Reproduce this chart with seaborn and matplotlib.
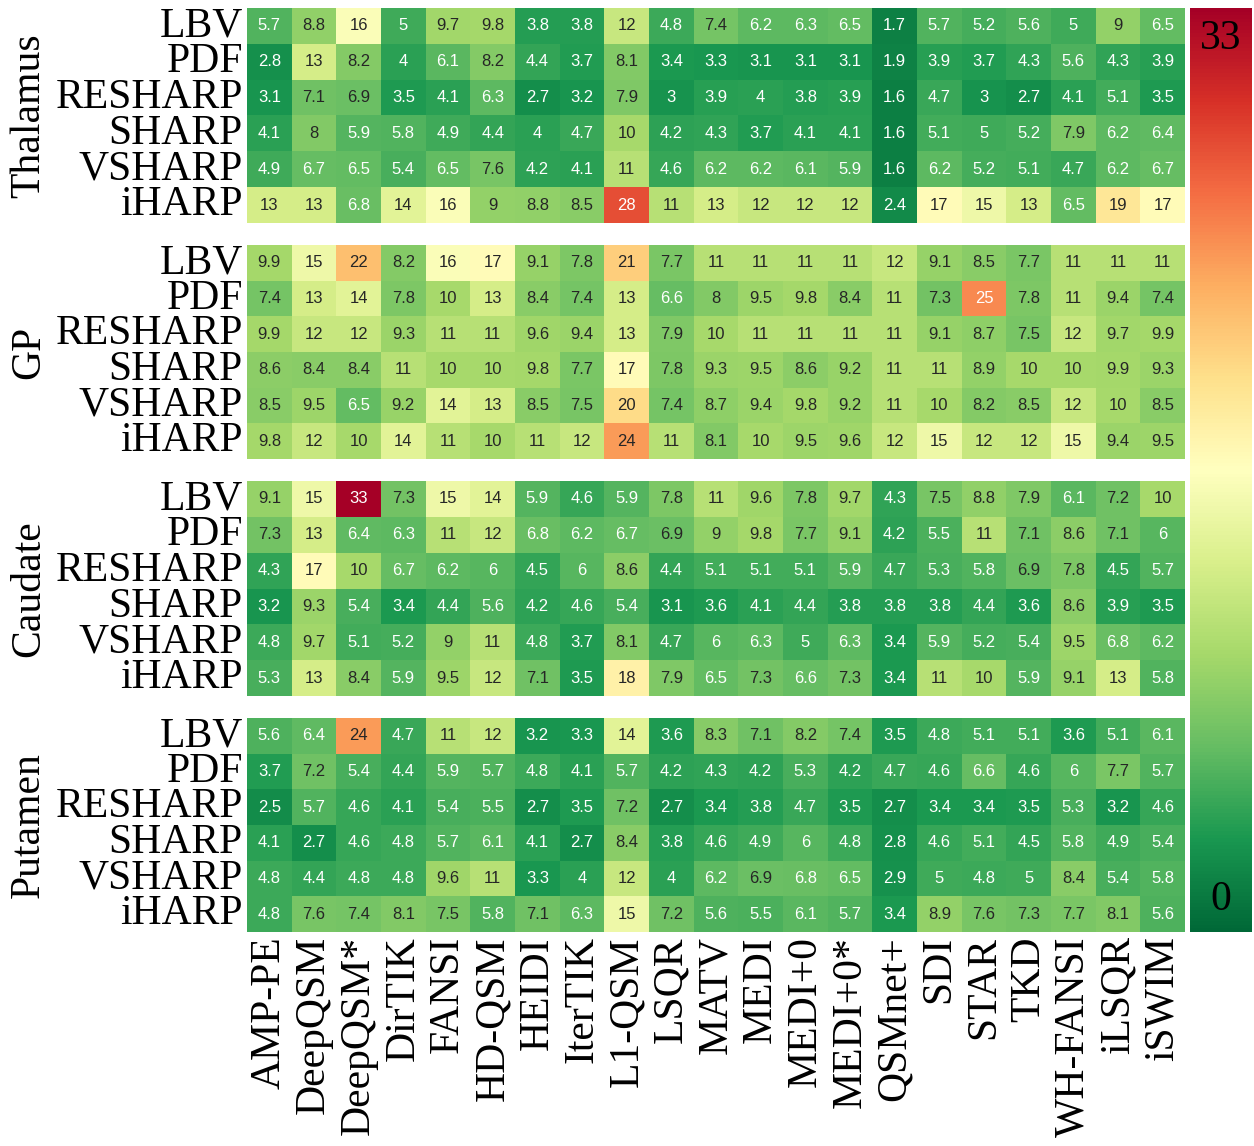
import matplotlib
matplotlib.use("Agg")
import matplotlib.pyplot as plt
import seaborn as sns
import pandas as pd
import numpy as np

methods = ["AMP-PE", "DeepQSM", "DeepQSM*", "DirTIK", "FANSI", "HD-QSM", "HEIDI",
           "IterTIK", "L1-QSM", "LSQR", "MATV", "MEDI", "MEDI+0", "MEDI+0*",
           "QSMnet+", "SDI", "STAR", "TKD", "WH-FANSI", "iLSQR", "iSWIM"]
bg_methods = ["LBV", "PDF", "RESHARP", "SHARP", "VSHARP", "iHARP"]
regions = ["Thalamus", "GP", "Caudate", "Putamen"]

thalamus = [
    [5.7, 8.8, 16, 5, 9.7, 9.8, 3.8, 3.8, 12, 4.8, 7.4, 6.2, 6.3, 6.5, 1.7, 5.7, 5.2, 5.6, 5, 9, 6.5],
    [2.8, 13, 8.2, 4, 6.1, 8.2, 4.4, 3.7, 8.1, 3.4, 3.3, 3.1, 3.1, 3.1, 1.9, 3.9, 3.7, 4.3, 5.6, 4.3, 3.9],
    [3.1, 7.1, 6.9, 3.5, 4.1, 6.3, 2.7, 3.2, 7.9, 3, 3.9, 4, 3.8, 3.9, 1.6, 4.7, 3, 2.7, 4.1, 5.1, 3.5],
    [4.1, 8, 5.9, 5.8, 4.9, 4.4, 4, 4.7, 10, 4.2, 4.3, 3.7, 4.1, 4.1, 1.6, 5.1, 5, 5.2, 7.9, 6.2, 6.4],
    [4.9, 6.7, 6.5, 5.4, 6.5, 7.6, 4.2, 4.1, 11, 4.6, 6.2, 6.2, 6.1, 5.9, 1.6, 6.2, 5.2, 5.1, 4.7, 6.2, 6.7],
    [13, 13, 6.8, 14, 16, 9, 8.8, 8.5, 28, 11, 13, 12, 12, 12, 2.4, 17, 15, 13, 6.5, 19, 17],
]
gp = [
    [9.9, 15, 22, 8.2, 16, 17, 9.1, 7.8, 21, 7.7, 11, 11, 11, 11, 12, 9.1, 8.5, 7.7, 11, 11, 11],
    [7.4, 13, 14, 7.8, 10, 13, 8.4, 7.4, 13, 6.6, 8, 9.5, 9.8, 8.4, 11, 7.3, 25, 7.8, 11, 9.4, 7.4],
    [9.9, 12, 12, 9.3, 11, 11, 9.6, 9.4, 13, 7.9, 10, 11, 11, 11, 11, 9.1, 8.7, 7.5, 12, 9.7, 9.9],
    [8.6, 8.4, 8.4, 11, 10, 10, 9.8, 7.7, 17, 7.8, 9.3, 9.5, 8.6, 9.2, 11, 11, 8.9, 10, 10, 9.9, 9.3],
    [8.5, 9.5, 6.5, 9.2, 14, 13, 8.5, 7.5, 20, 7.4, 8.7, 9.4, 9.8, 9.2, 11, 10, 8.2, 8.5, 12, 10, 8.5],
    [9.8, 12, 10, 14, 11, 10, 11, 12, 24, 11, 8.1, 10, 9.5, 9.6, 12, 15, 12, 12, 15, 9.4, 9.5],
]
caudate = [
    [9.1, 15, 33, 7.3, 15, 14, 5.9, 4.6, 5.9, 7.8, 11, 9.6, 7.8, 9.7, 4.3, 7.5, 8.8, 7.9, 6.1, 7.2, 10],
    [7.3, 13, 6.4, 6.3, 11, 12, 6.8, 6.2, 6.7, 6.9, 9, 9.8, 7.7, 9.1, 4.2, 5.5, 11, 7.1, 8.6, 7.1, 6],
    [4.3, 17, 10, 6.7, 6.2, 6, 4.5, 6, 8.6, 4.4, 5.1, 5.1, 5.1, 5.9, 4.7, 5.3, 5.8, 6.9, 7.8, 4.5, 5.7],
    [3.2, 9.3, 5.4, 3.4, 4.4, 5.6, 4.2, 4.6, 5.4, 3.1, 3.6, 4.1, 4.4, 3.8, 3.8, 3.8, 4.4, 3.6, 8.6, 3.9, 3.5],
    [4.8, 9.7, 5.1, 5.2, 9, 11, 4.8, 3.7, 8.1, 4.7, 6, 6.3, 5, 6.3, 3.4, 5.9, 5.2, 5.4, 9.5, 6.8, 6.2],
    [5.3, 13, 8.4, 5.9, 9.5, 12, 7.1, 3.5, 18, 7.9, 6.5, 7.3, 6.6, 7.3, 3.4, 11, 10, 5.9, 9.1, 13, 5.8],
]
putamen = [
    [5.6, 6.4, 24, 4.7, 11, 12, 3.2, 3.3, 14, 3.6, 8.3, 7.1, 8.2, 7.4, 3.5, 4.8, 5.1, 5.1, 3.6, 5.1, 6.1],
    [3.7, 7.2, 5.4, 4.4, 5.9, 5.7, 4.8, 4.1, 5.7, 4.2, 4.3, 4.2, 5.3, 4.2, 4.7, 4.6, 6.6, 4.6, 6, 7.7, 5.7],
    [2.5, 5.7, 4.6, 4.1, 5.4, 5.5, 2.7, 3.5, 7.2, 2.7, 3.4, 3.8, 4.7, 3.5, 2.7, 3.4, 3.4, 3.5, 5.3, 3.2, 4.6],
    [4.1, 2.7, 4.6, 4.8, 5.7, 6.1, 4.1, 2.7, 8.4, 3.8, 4.6, 4.9, 6, 4.8, 2.8, 4.6, 5.1, 4.5, 5.8, 4.9, 5.4],
    [4.8, 4.4, 4.8, 4.8, 9.6, 11, 3.3, 4, 12, 4, 6.2, 6.9, 6.8, 6.5, 2.9, 5, 4.8, 5, 8.4, 5.4, 5.8],
    [4.8, 7.6, 7.4, 8.1, 7.5, 5.8, 7.1, 6.3, 15, 7.2, 5.6, 5.5, 6.1, 5.7, 3.4, 8.9, 7.6, 7.3, 7.7, 8.1, 5.6],
]

serif = "Liberation Serif"
label_size = 30

fig = plt.figure(figsize=(12.54, 11.46), dpi=100)
W, H = 1254.0, 1146.0

# pixel extents of each block (top, bottom)
blocks = [(8, 223), (245, 459), (481, 696), (718, 932)]
left_px, right_px = 247, 1185
cax = fig.add_axes([1190 / W, 1 - 932 / H, 62 / W, (932 - 8) / H])

for i, (name, vals) in enumerate(zip(regions, [thalamus, gp, caudate, putamen])):
    top, bot = blocks[i]
    ax = fig.add_axes([left_px / W, 1 - bot / H, (right_px - left_px) / W, (bot - top) / H])
    df = pd.DataFrame(vals, index=bg_methods, columns=methods)
    sns.heatmap(df, ax=ax, cmap="RdYlGn_r", vmin=0, vmax=33, annot=True, fmt=".2g",
                annot_kws={"fontsize": 12, "family": "Liberation Sans"},
                cbar=(i == 0), cbar_ax=cax if i == 0 else None)
    ax.tick_params(length=0, pad=3)
    ax.set_yticklabels(bg_methods, rotation=0, fontsize=label_size, family=serif)
    ax.set_ylabel(name, fontsize=label_size, family=serif)
    ax.yaxis.set_label_coords((48 - left_px) / (right_px - left_px), 0.5)
    if i == 3:
        ax.set_xticklabels(methods, rotation=90, fontsize=label_size, family=serif)
    else:
        ax.set_xticks([])
    ax.set_xlabel("")

cax.set_yticks([])
cax.tick_params(length=0)
for s in cax.spines.values():
    s.set_visible(False)
cax.text(0.5, 0.967, "33", transform=cax.transAxes, ha="center", va="center",
         fontsize=label_size, family=serif)
cax.text(0.5, 0.035, "0", transform=cax.transAxes, ha="center", va="center",
         fontsize=label_size, family=serif)

fig.savefig("out.png", dpi=100)
